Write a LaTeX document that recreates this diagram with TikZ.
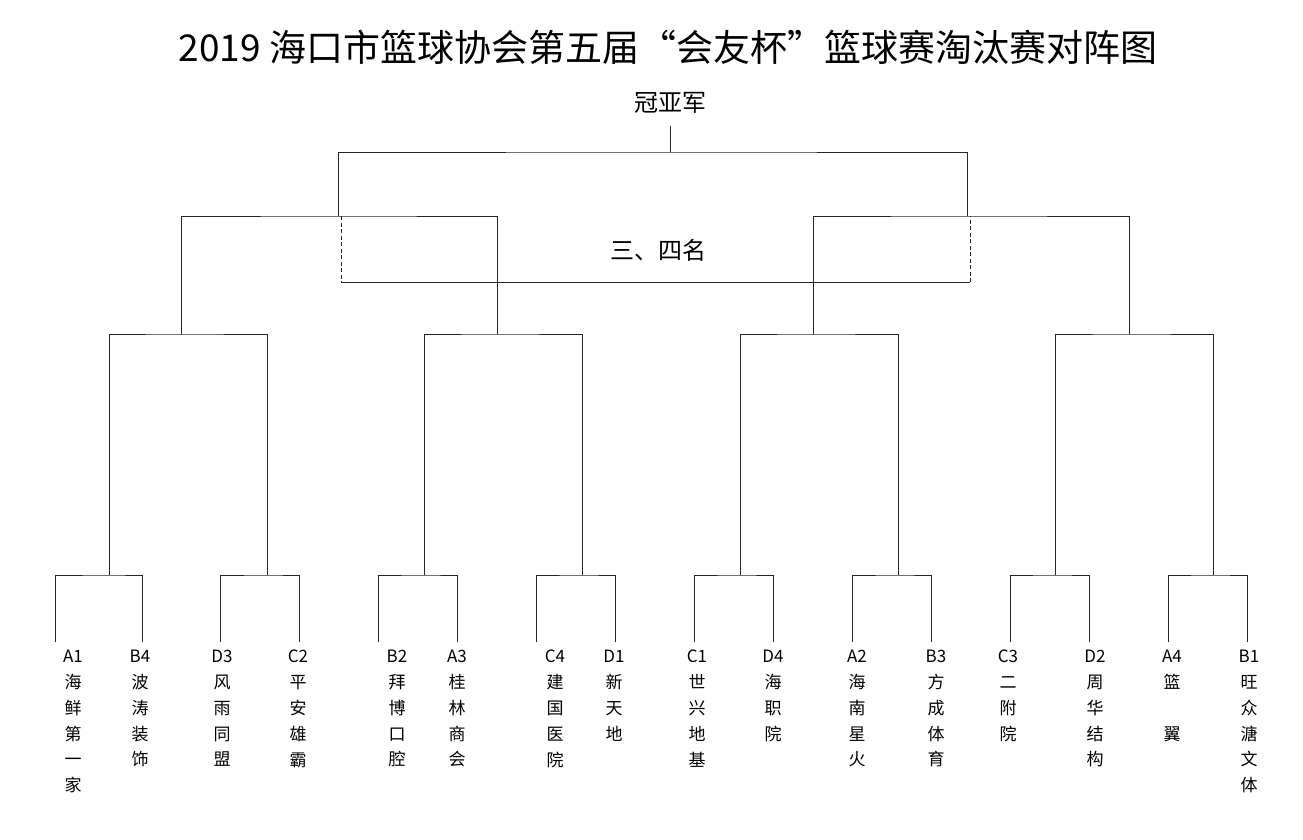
\documentclass[tikz,border=0pt]{standalone}
\usepackage{fontspec}
\setmainfont{Noto Sans CJK SC}
\usetikzlibrary{positioning}
\tikzset{
  team/.style={anchor=north, align=center, inner sep=0pt, font=\fontsize{17}{25.8}\selectfont},
  link/.style={black!85, line width=0.8pt},
  thirdlink/.style={black!85, line width=0.8pt, dashed, dash pattern=on 4pt off 2.5pt}
}

\begin{document}
\begin{tikzpicture}[x=1pt,y=-1pt]
    \useasboundingbox[fill=white] (0,0) rectangle (1303,840);
    \node (title) at (668,47) {\fontsize{37}{40}\selectfont 2019 海口市篮球协会第五届“会友杯”篮球赛淘汰赛对阵图};
    \node[inner sep=12pt, font=\fontsize{24}{28}\selectfont] (champ) at (670,103) {冠亚军};
    \node[font=\fontsize{24}{28}\selectfont] (third) at (658,250) {三、四名};
    % teams: number / line x / label x / text
    \foreach \n/\x/\lx/\t in {1/55/73/{A1\\海\\鲜\\第\\一\\家}, 2/142/140/{B4\\波\\涛\\装\\饰},
        3/220/222/{D3\\风\\雨\\同\\盟}, 4/299/298/{C2\\平\\安\\雄\\霸},
        5/378/397/{B2\\拜\\博\\口\\腔}, 6/457/457/{A3\\桂\\林\\商\\会},
        7/536/555/{C4\\建\\国\\医\\院}, 8/615/614/{D1\\新\\天\\地},
        9/694/697/{C1\\世\\兴\\地\\基}, 10/773/773/{D4\\海\\职\\院},
        11/852/857/{A2\\海\\南\\星\\火}, 12/931/936/{B3\\方\\成\\体\\育},
        13/1010/1008/{C3\\二\\附\\院}, 14/1089/1095/{D2\\周\\华\\结\\构},
        15/1168/1172/{A4\\篮\\~\\翼}, 16/1247/1249/{B1\\旺\\众\\溏\\文\\体}}{
        \node[team] (t\n) at (\lx,650) {\t};
        \coordinate (b\n) at (\x,642);
    }
    % first round
    \foreach \i/\x in {1/109,2/267,3/424,4/582,5/740,6/898,7/1055,8/1213}{
        \coordinate (j\i) at (\x,575);
    }
    \foreach \i [evaluate=\i as \a using int(2*\i-1), evaluate=\i as \b using int(2*\i)] in {1,...,8}{
        \draw[link] (b\a) |- (j\i) -| (b\b);
    }
    % second round
    \foreach \i/\x in {1/181,2/497,3/813,4/1129}{
        \coordinate (q\i) at (\x,334);
    }
    \foreach \i [evaluate=\i as \a using int(2*\i-1), evaluate=\i as \b using int(2*\i)] in {1,...,4}{
        \draw[link] (j\a) |- (q\i) -| (j\b);
    }
    % semifinals
    \coordinate (s1) at (338,216);
    \coordinate (s2) at (967,216);
    \draw[link] (q1) |- (s1) -| (q2);
    \draw[link] (q3) |- (s2) -| (q4);
    % final
    \coordinate (f) at (670,152);
    \draw[link] (s1) |- (f) -| (s2);
    \draw[link] (f) -- (champ.south);
    % third place
    \coordinate (p1) at (341,216);
    \coordinate (p2) at (970,216);
    \coordinate (p3) at (341,282);
    \coordinate (p4) at (970,282);
    \draw[thirdlink] (p1) -- (p3);
    \draw[link] (p3) -- (p4);
    \draw[thirdlink] (p4) -- (p2);
\end{tikzpicture}
\end{document}
